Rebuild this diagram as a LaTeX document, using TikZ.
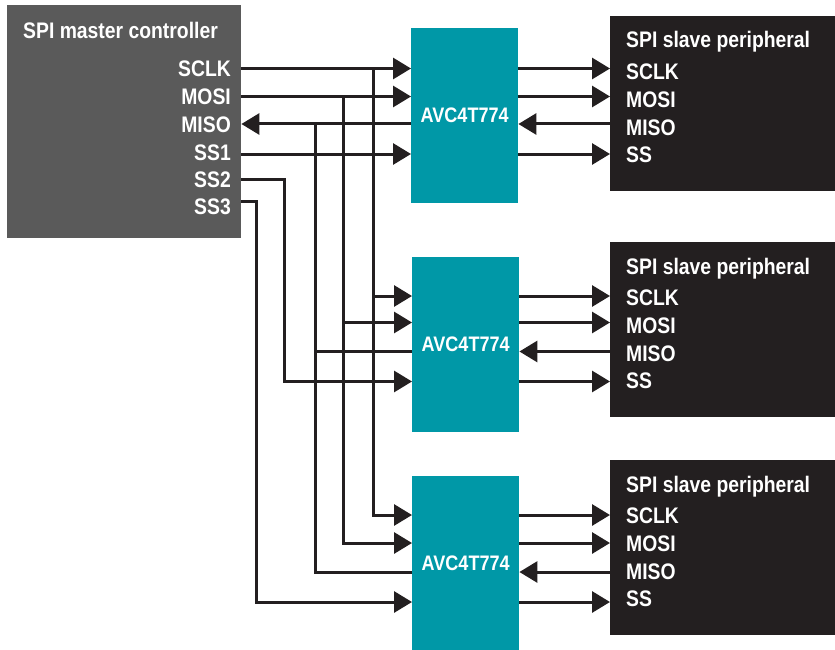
\documentclass[tikz,border=0pt]{standalone}
\usepackage{fontspec}
\setmainfont{Liberation Sans}[FakeStretch=0.86]
\usetikzlibrary{arrows.meta,calc}
\definecolor{mastergray}{HTML}{5A5A5A}
\definecolor{avcteal}{HTML}{0098A7}
\definecolor{slaveblack}{HTML}{231F20}
\definecolor{wirecol}{HTML}{231F20}
\tikzset{
  masterbox/.style={fill=mastergray, draw=none, inner sep=0, minimum width=234pt, minimum height=233pt},
  avcbox/.style={fill=avcteal, draw=none, inner sep=0, text=white, minimum width=107pt, minimum height=175pt,
                 font=\fontsize{21}{24}\selectfont\bfseries},
  slavebox/.style={fill=slaveblack, draw=none, inner sep=0, minimum width=225pt, minimum height=175pt},
  txt/.style={text=white, inner sep=0},
  bus/.style={draw=wirecol, line width=3pt},
  sig/.style={bus, -{Triangle[length=18pt,width=21pt]}},
}
\begin{document}
\begin{tikzpicture}[x=1pt,y=-1pt,font=\fontsize{22.5}{26}\selectfont\bfseries]
\fill[white] (0,0) rectangle (835,650);
\useasboundingbox (0,0) rectangle (835,650);

% ---------- master ----------
\node[masterbox, anchor=north west] (M) at (7,5) {};
\node[txt, anchor=base west] (Mt) at (23,38.5) {SPI master controller};
\node[txt, anchor=east] (mlSCLK) at (231,68.5) {SCLK};
\node[txt, anchor=east] (mlMOSI) at (231,96.5) {MOSI};
\node[txt, anchor=east] (mlMISO) at (231,124.5) {MISO};
\node[txt, anchor=east] (mlSS1) at (231,152.5) {SS1};
\node[txt, anchor=east] (mlSS2) at (231,180) {SS2};
\node[txt, anchor=east] (mlSS3) at (231,207) {SS3};

% ---------- level translators ----------
\node[avcbox, anchor=north west] (A1) at (411,28) {AVC4T774};
\node[avcbox, anchor=north west] (A2) at (412,257) {AVC4T774};
\node[avcbox, anchor=north west] (A3) at (412,476) {AVC4T774};

% ---------- slaves ----------
\foreach \k/\t in {1/16,2/242,3/460} {
  \node[slavebox, anchor=north west] (S\k) at (610,\t) {};
  \node[txt, anchor=base west] (S\k-t) at ($(S\k.north west)+(16,32)$) {SPI slave peripheral};
  \node[txt, anchor=west] (S\k-sclk) at ($(S\k.north west)+(16,55.5)$) {SCLK};
  \node[txt, anchor=west] (S\k-mosi) at ($(S\k.north west)+(16,83.5)$) {MOSI};
  \node[txt, anchor=west] (S\k-miso) at ($(S\k.north west)+(16,111.5)$) {MISO};
  \node[txt, anchor=west] (S\k-ss) at ($(S\k.north west)+(16,138.5)$) {SS};
}

% ---------- row and bus coordinates ----------
\coordinate (r11) at (0,68.5);
\coordinate (r12) at (0,96.5);
\coordinate (r13) at (0,124);
\coordinate (r14) at (0,154);
\coordinate (r15) at (0,179);
\coordinate (r16) at (0,201);
\coordinate (r21) at (0,296);
\coordinate (r22) at (0,322.5);
\coordinate (r23) at (0,351.5);
\coordinate (r24) at (0,381.5);
\coordinate (r31) at (0,515);
\coordinate (r32) at (0,543);
\coordinate (r33) at (0,572);
\coordinate (r34) at (0,602);
\coordinate (xSCLK) at (373,0);
\coordinate (xMOSI) at (343,0);
\coordinate (xMISO) at (315,0);
\coordinate (xSS2) at (284,0);
\coordinate (xSS3) at (256,0);

% ---------- master to first translator ----------
\draw[sig] (M.east |- r11) -- (A1.west |- r11);
\draw[sig] (M.east |- r12) -- (A1.west |- r12);
\draw[sig] (A1.west |- r13) -- (M.east |- r13);
\draw[sig] (M.east |- r14) -- (A1.west |- r14);

% ---------- shared buses ----------
\draw[sig] (xSCLK |- r11) |- (A3.west |- r31);
\draw[sig] (xSCLK |- r21) -- (A2.west |- r21);
\draw[sig] (xMOSI |- r12) |- (A3.west |- r32);
\draw[sig] (xMOSI |- r22) -- (A2.west |- r22);
\draw[bus] (A3.west |- r33) -| (xMISO |- r13);
\draw[bus] (A2.west |- r23) -- (xMISO |- r23);
\draw[sig] (M.east |- r15) -| (xSS2 |- r24) -- (A2.west |- r24);
\draw[sig] (M.east |- r16) -| (xSS3 |- r34) -- (A3.west |- r34);

% ---------- translators to slaves ----------
\draw[sig] (A1.east |- r11) -- (S1.west |- r11);
\draw[sig] (A1.east |- r12) -- (S1.west |- r12);
\draw[sig] (S1.west |- r13) -- (A1.east |- r13);
\draw[sig] (A1.east |- r14) -- (S1.west |- r14);
\draw[sig] (A2.east |- r21) -- (S2.west |- r21);
\draw[sig] (A2.east |- r22) -- (S2.west |- r22);
\draw[sig] (S2.west |- r23) -- (A2.east |- r23);
\draw[sig] (A2.east |- r24) -- (S2.west |- r24);
\draw[sig] (A3.east |- r31) -- (S3.west |- r31);
\draw[sig] (A3.east |- r32) -- (S3.west |- r32);
\draw[sig] (S3.west |- r33) -- (A3.east |- r33);
\draw[sig] (A3.east |- r34) -- (S3.west |- r34);
\end{tikzpicture}
\end{document}
